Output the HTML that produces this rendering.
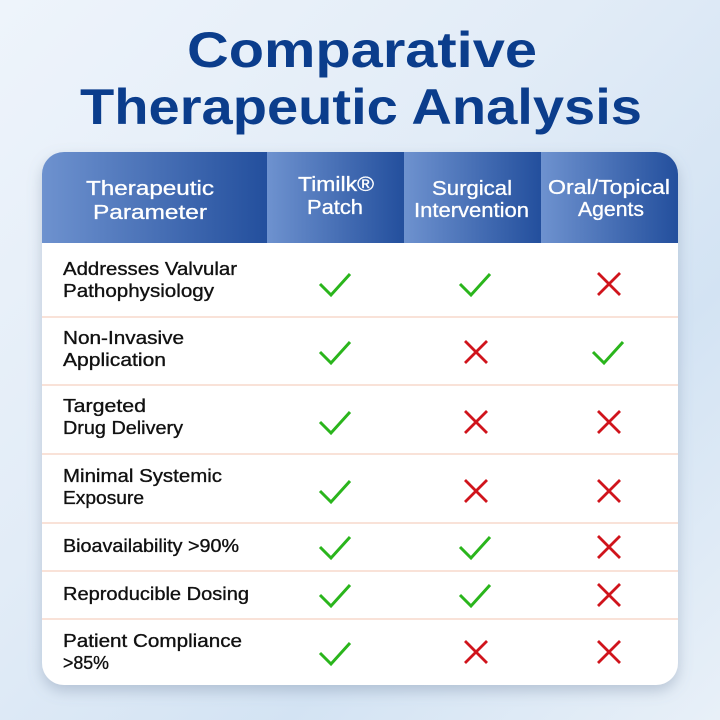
<!DOCTYPE html>
<html><head><meta charset="utf-8"><style>
html,body{margin:0;padding:0;width:720px;height:720px;overflow:hidden}
body{background:linear-gradient(135deg,#eef4fb 0%,#e2ecf7 40%,#d3e3f3 70%,#e8f0f8 100%)}
svg{display:block}
</style></head><body>
<svg width="720" height="720" viewBox="0 0 720 720" xmlns="http://www.w3.org/2000/svg">
<defs>
<linearGradient id="hg" x1="0" y1="0" x2="1" y2="0"><stop offset="0" stop-color="#6e92cf"/><stop offset="1" stop-color="#234f9d"/></linearGradient>
<clipPath id="card"><rect x="42" y="152" width="636" height="533" rx="22"/></clipPath>
<filter id="sh" x="-10%" y="-10%" width="120%" height="120%"><feDropShadow dx="0" dy="6" stdDeviation="7" flood-color="#6a7d99" flood-opacity="0.35"/></filter>
<g id="ck"><polyline points="-16,1 -5,12 14,-9" fill="none" stroke="#2ab51c" stroke-width="3"/></g>
<g id="cx"><path d="M-11,-11 L11,11 M11,-11 L-11,11" fill="none" stroke="#d0141c" stroke-width="2.8"/></g>
</defs>
<g font-family="Liberation Sans, sans-serif" font-weight="bold" fill="#0b3d8c" font-size="50" text-anchor="start">
<text x="187" y="67" textLength="350" lengthAdjust="spacingAndGlyphs">Comparative</text>
<text x="80" y="124" textLength="562" lengthAdjust="spacingAndGlyphs">Therapeutic Analysis</text>
</g>
<rect x="42" y="152" width="636" height="533" rx="22" fill="#fff" filter="url(#sh)"/>
<g clip-path="url(#card)">
<rect x="42" y="152" width="225" height="91" fill="url(#hg)"/>
<rect x="267" y="152" width="137" height="91" fill="url(#hg)"/>
<rect x="404" y="152" width="137" height="91" fill="url(#hg)"/>
<rect x="541" y="152" width="137" height="91" fill="url(#hg)"/>
</g>
<g font-family="Liberation Sans, sans-serif" fill="#fff" font-size="20" stroke="#fff" stroke-width="0.3" lengthAdjust="spacingAndGlyphs">
<text x="86" y="195" textLength="128" lengthAdjust="spacingAndGlyphs">Therapeutic</text><text x="93" y="219" textLength="114" lengthAdjust="spacingAndGlyphs">Parameter</text>
<text x="298" y="191" textLength="76" lengthAdjust="spacingAndGlyphs">Timilk®</text><text x="307" y="214" textLength="56" lengthAdjust="spacingAndGlyphs">Patch</text>
<text x="432" y="195" textLength="80" lengthAdjust="spacingAndGlyphs">Surgical</text><text x="414" y="217" textLength="115" lengthAdjust="spacingAndGlyphs">Intervention</text>
<text x="548" y="194" textLength="122" lengthAdjust="spacingAndGlyphs">Oral/Topical</text><text x="578" y="216" textLength="66" lengthAdjust="spacingAndGlyphs">Agents</text>
</g>
<g stroke="#f9e2d8" stroke-width="2">
<line x1="42" y1="317" x2="678" y2="317"/><line x1="42" y1="385" x2="678" y2="385"/>
<line x1="42" y1="454" x2="678" y2="454"/><line x1="42" y1="523" x2="678" y2="523"/>
<line x1="42" y1="571" x2="678" y2="571"/><line x1="42" y1="619" x2="678" y2="619"/>
</g>
<g font-family="Liberation Sans, sans-serif" fill="#111" font-size="18.5" stroke="#111" stroke-width="0.35">
<text x="63" y="275" textLength="174" lengthAdjust="spacingAndGlyphs">Addresses Valvular</text>
<text x="63" y="297" textLength="151" lengthAdjust="spacingAndGlyphs">Pathophysiology</text>
<text x="63" y="344" textLength="121" lengthAdjust="spacingAndGlyphs">Non-Invasive</text><text x="63" y="366" textLength="103" lengthAdjust="spacingAndGlyphs">Application</text>
<text x="63" y="412" textLength="83" lengthAdjust="spacingAndGlyphs">Targeted</text><text x="63" y="434" textLength="120" lengthAdjust="spacingAndGlyphs">Drug Delivery</text>
<text x="63" y="482" textLength="159" lengthAdjust="spacingAndGlyphs">Minimal Systemic</text><text x="63" y="504" textLength="81" lengthAdjust="spacingAndGlyphs">Exposure</text>
<text x="63" y="552" textLength="176" lengthAdjust="spacingAndGlyphs">Bioavailability &gt;90%</text>
<text x="63" y="600" textLength="186" lengthAdjust="spacingAndGlyphs">Reproducible Dosing</text>
<text x="63" y="647" textLength="179" lengthAdjust="spacingAndGlyphs">Patient Compliance</text><text x="63" y="669" textLength="46" lengthAdjust="spacingAndGlyphs">&gt;85%</text>
</g>
<use href="#ck" x="336" y="283"/><use href="#ck" x="476" y="283"/><use href="#cx" x="609" y="284"/>
<use href="#ck" x="336" y="351"/><use href="#cx" x="476" y="352"/><use href="#ck" x="609" y="351"/>
<use href="#ck" x="336" y="421"/><use href="#cx" x="476" y="422"/><use href="#cx" x="609" y="422"/>
<use href="#ck" x="336" y="490"/><use href="#cx" x="476" y="491"/><use href="#cx" x="609" y="491"/>
<use href="#ck" x="336" y="546"/><use href="#ck" x="476" y="546"/><use href="#cx" x="609" y="547"/>
<use href="#ck" x="336" y="594"/><use href="#ck" x="476" y="594"/><use href="#cx" x="609" y="595"/>
<use href="#ck" x="336" y="652"/><use href="#cx" x="476" y="652"/><use href="#cx" x="609" y="652"/>
</svg>
</body></html>
